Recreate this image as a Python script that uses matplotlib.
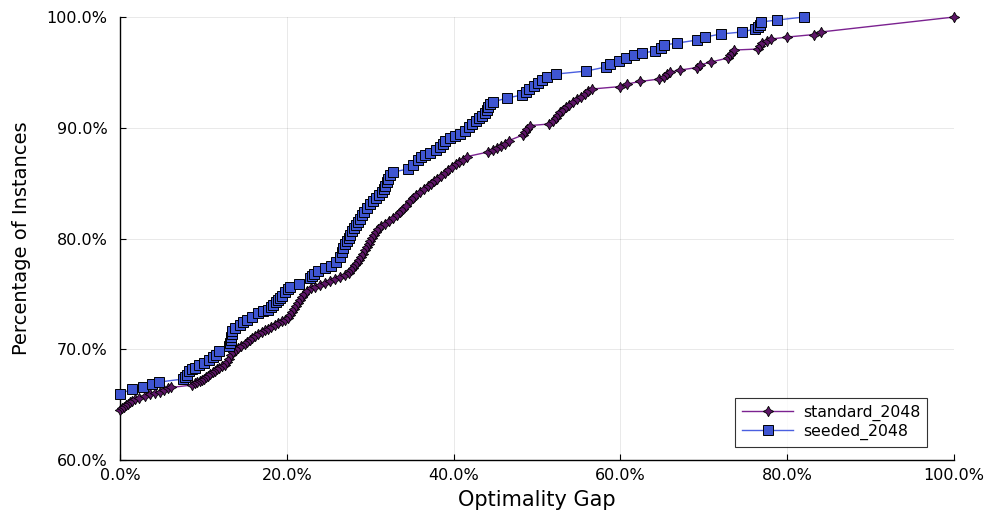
import matplotlib.pyplot as plt
import numpy as np
from matplotlib.ticker import FuncFormatter

# optimality gap (fraction) vs cumulative share of instances
standard_gap = [
    0.0000, 0.0024, 0.0048, 0.0072, 0.0096, 0.0120, 0.0144, 0.0180, 0.0228, 0.0300,
    0.0360, 0.0420, 0.0480, 0.0528, 0.0576, 0.0612, 0.0863, 0.0899, 0.0923, 0.0959,
    0.0983, 0.1007, 0.1031, 0.1055, 0.1079, 0.1115, 0.1139, 0.1163, 0.1187, 0.1223,
    0.1259, 0.1283, 0.1307, 0.1331, 0.1355, 0.1391, 0.1415, 0.1451, 0.1499, 0.1523,
    0.1559, 0.1583, 0.1619, 0.1655, 0.1703, 0.1739, 0.1775, 0.1811, 0.1859, 0.1894,
    0.1942, 0.1978, 0.2014, 0.2038, 0.2062, 0.2086, 0.2110, 0.2134, 0.2158, 0.2182,
    0.2206, 0.2242, 0.2290, 0.2338, 0.2398, 0.2458, 0.2518, 0.2578, 0.2638, 0.2698,
    0.2746, 0.2770, 0.2794, 0.2818, 0.2842, 0.2866, 0.2890, 0.2914, 0.2938, 0.2962,
    0.2986, 0.2998, 0.3022, 0.3046, 0.3070, 0.3094, 0.3129, 0.3177, 0.3225, 0.3273,
    0.3321, 0.3357, 0.3393, 0.3429, 0.3477, 0.3513, 0.3549, 0.3597, 0.3645, 0.3693,
    0.3729, 0.3765, 0.3801, 0.3849, 0.3897, 0.3933, 0.3981, 0.4029, 0.4065, 0.4113,
    0.4161, 0.4412, 0.4472, 0.4520, 0.4568, 0.4616, 0.4664, 0.4832, 0.4856, 0.4880,
    0.4916, 0.5144, 0.5192, 0.5228, 0.5252, 0.5276, 0.5312, 0.5348, 0.5384, 0.5432,
    0.5480, 0.5528, 0.5576, 0.5612, 0.5659, 0.5995, 0.6079, 0.6235, 0.6463, 0.6523,
    0.6559, 0.6595, 0.6715, 0.6918, 0.6954, 0.7086, 0.7290, 0.7314, 0.7338, 0.7362,
    0.7650, 0.7674, 0.7698, 0.7758, 0.7806, 0.7998, 0.8321, 0.8405, 1.0000,
]
standard_pct = [
    0.6451, 0.6470, 0.6479, 0.6497, 0.6506, 0.6524, 0.6535, 0.6551, 0.6564, 0.6578,
    0.6596, 0.6605, 0.6618, 0.6628, 0.6646, 0.6655, 0.6677, 0.6691, 0.6700, 0.6713,
    0.6722, 0.6736, 0.6749, 0.6763, 0.6777, 0.6795, 0.6808, 0.6822, 0.6835, 0.6849,
    0.6858, 0.6885, 0.6912, 0.6948, 0.6975, 0.6993, 0.7011, 0.7029, 0.7047, 0.7065,
    0.7084, 0.7102, 0.7120, 0.7138, 0.7160, 0.7174, 0.7187, 0.7201, 0.7219, 0.7233,
    0.7251, 0.7264, 0.7282, 0.7309, 0.7336, 0.7363, 0.7391, 0.7418, 0.7445, 0.7472,
    0.7499, 0.7526, 0.7549, 0.7562, 0.7580, 0.7598, 0.7616, 0.7634, 0.7652, 0.7670,
    0.7688, 0.7716, 0.7738, 0.7761, 0.7783, 0.7806, 0.7833, 0.7860, 0.7892, 0.7923,
    0.7950, 0.7977, 0.8005, 0.8036, 0.8063, 0.8090, 0.8113, 0.8135, 0.8158, 0.8181,
    0.8212, 0.8239, 0.8271, 0.8298, 0.8339, 0.8366, 0.8397, 0.8424, 0.8447, 0.8474,
    0.8492, 0.8519, 0.8537, 0.8564, 0.8592, 0.8619, 0.8646, 0.8673, 0.8691, 0.8713,
    0.8740, 0.8781, 0.8799, 0.8817, 0.8831, 0.8858, 0.8885, 0.8935, 0.8962, 0.8989,
    0.9020, 0.9034, 0.9061, 0.9088, 0.9115, 0.9138, 0.9165, 0.9187, 0.9210, 0.9233,
    0.9260, 0.9282, 0.9309, 0.9332, 0.9350, 0.9372, 0.9395, 0.9418, 0.9440, 0.9458,
    0.9485, 0.9503, 0.9521, 0.9544, 0.9567, 0.9594, 0.9630, 0.9657, 0.9679, 0.9702,
    0.9711, 0.9738, 0.9761, 0.9783, 0.9801, 0.9819, 0.9842, 0.9865, 1.0000,
]

seeded_gap = [
    0.0000, 0.0144, 0.0276, 0.0384, 0.0468, 0.0755, 0.0779, 0.0803, 0.0827, 0.0863,
    0.0899, 0.0947, 0.1004, 0.1064, 0.1112, 0.1151, 0.1187, 0.1307, 0.1319, 0.1325,
    0.1331, 0.1337, 0.1343, 0.1379, 0.1439, 0.1475, 0.1523, 0.1583, 0.1655, 0.1715,
    0.1775, 0.1811, 0.1835, 0.1871, 0.1894, 0.1918, 0.1942, 0.1978, 0.2014, 0.2038,
    0.2146, 0.2278, 0.2302, 0.2326, 0.2374, 0.2458, 0.2530, 0.2590, 0.2638, 0.2662,
    0.2674, 0.2698, 0.2722, 0.2746, 0.2758, 0.2782, 0.2806, 0.2830, 0.2854, 0.2878,
    0.2902, 0.2926, 0.2962, 0.2998, 0.3034, 0.3070, 0.3106, 0.3141, 0.3165, 0.3177,
    0.3201, 0.3213, 0.3237, 0.3273, 0.3453, 0.3513, 0.3573, 0.3609, 0.3657, 0.3717,
    0.3789, 0.3837, 0.3873, 0.3897, 0.3957, 0.4017, 0.4077, 0.4137, 0.4185, 0.4221,
    0.4269, 0.4305, 0.4341, 0.4376, 0.4400, 0.4412, 0.4436, 0.4472, 0.4640, 0.4820,
    0.4868, 0.4904, 0.4964, 0.5012, 0.5060, 0.5120, 0.5228, 0.5588, 0.5827, 0.5875,
    0.5983, 0.6067, 0.6163, 0.6259, 0.6415, 0.6487, 0.6523, 0.6679, 0.6918, 0.7014,
    0.7206, 0.7458, 0.7614, 0.7650, 0.7674, 0.7686, 0.7878, 0.8201,
]
seeded_pct = [
    0.6596, 0.6641, 0.6659, 0.6686, 0.6704, 0.6731, 0.6749, 0.6767, 0.6804, 0.6822,
    0.6833, 0.6858, 0.6879, 0.6903, 0.6930, 0.6948, 0.6984, 0.7029, 0.7056, 0.7084,
    0.7111, 0.7138, 0.7165, 0.7192, 0.7219, 0.7246, 0.7264, 0.7291, 0.7327, 0.7345,
    0.7354, 0.7381, 0.7400, 0.7427, 0.7445, 0.7463, 0.7484, 0.7517, 0.7544, 0.7562,
    0.7586, 0.7643, 0.7661, 0.7679, 0.7711, 0.7734, 0.7752, 0.7788, 0.7833, 0.7878,
    0.7914, 0.7950, 0.7977, 0.8005, 0.8032, 0.8068, 0.8095, 0.8122, 0.8149, 0.8176,
    0.8212, 0.8239, 0.8275, 0.8312, 0.8339, 0.8366, 0.8393, 0.8420, 0.8447, 0.8474,
    0.8510, 0.8537, 0.8573, 0.8600, 0.8628, 0.8664, 0.8709, 0.8736, 0.8754, 0.8772,
    0.8799, 0.8826, 0.8853, 0.8880, 0.8907, 0.8926, 0.8948, 0.8971, 0.9007, 0.9034,
    0.9061, 0.9088, 0.9106, 0.9133, 0.9160, 0.9187, 0.9214, 0.9233, 0.9269, 0.9296,
    0.9323, 0.9350, 0.9377, 0.9404, 0.9431, 0.9458, 0.9485, 0.9512, 0.9549, 0.9576,
    0.9603, 0.9630, 0.9657, 0.9675, 0.9693, 0.9720, 0.9747, 0.9765, 0.9792, 0.9819,
    0.9847, 0.9865, 0.9892, 0.9910, 0.9928, 0.9955, 0.9973, 1.0000,
]

x_ticks = [0.0, 0.2, 0.4, 0.6, 0.8, 1.0]
y_ticks = [0.6, 0.7, 0.8, 0.9, 1.0]

fig = plt.figure(figsize=(9.84, 5.16), dpi=100)
ax = fig.add_axes([0.122, 0.1085, 0.8475, 0.8585])

ax.plot(standard_gap, standard_pct, color='#7b2290', lw=1.0,
        marker=(4, 1, 0), markersize=7.5, markerfacecolor='#5e1668',
        markeredgecolor='black', markeredgewidth=0.6, clip_on=False,
        label='standard_2048', zorder=3)
ax.plot(seeded_gap, seeded_pct, color='#4a5fe0', lw=1.0,
        marker='s', markersize=6.5, markerfacecolor='#3f55d2',
        markeredgecolor='black', markeredgewidth=0.7, clip_on=False,
        label='seeded_2048', zorder=4)

ax.set_xlim(0, 1)
ax.set_ylim(0.6, 1.0)
ax.set_xticks(x_ticks)
ax.set_yticks(y_ticks)
pct = FuncFormatter(lambda v, p: f'{v * 100:.1f}%')
ax.xaxis.set_major_formatter(pct)
ax.yaxis.set_major_formatter(pct)
ax.tick_params(direction='in', length=4, width=0.8, labelsize=11.5)
ax.tick_params(axis='y', pad=9)
ax.tick_params(axis='x', pad=6)
ax.grid(True, color='black', alpha=0.1, lw=0.6)
ax.set_axisbelow(True)
for s in ['top', 'right']:
    ax.spines[s].set_visible(False)
for s in ['left', 'bottom']:
    ax.spines[s].set_linewidth(1.0)

ax.set_xlabel('Optimality Gap', fontsize=15, labelpad=5)
ax.set_ylabel('Percentage of Instances', fontsize=14, labelpad=11)

leg = ax.legend(loc='lower right', fontsize=11.3, frameon=True, fancybox=False,
                edgecolor='black', bbox_to_anchor=(0.968, 0.03),
                borderaxespad=0.0, handlelength=3.3, labelspacing=0.15,
                borderpad=0.45, handletextpad=0.6)
leg.get_frame().set_linewidth(0.8)

fig.savefig('out.png', dpi=100)
